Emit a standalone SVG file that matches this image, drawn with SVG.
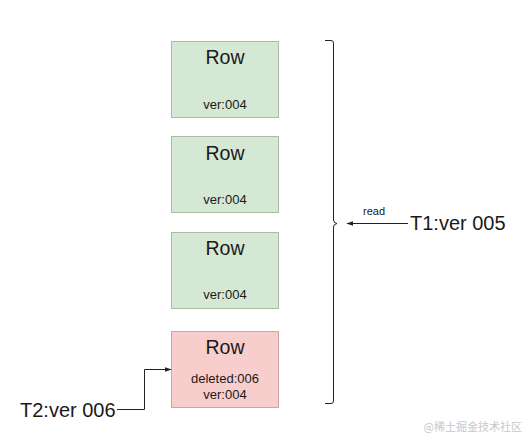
<svg xmlns="http://www.w3.org/2000/svg" width="532" height="444" viewBox="0 0 532 444">
<defs>
<style>
.txt{font-family:"Liberation Sans",Arial,sans-serif;fill:#1a1a1a}
.green{fill:#d5e8d4;stroke:#a9bda6;stroke-width:1}
.red{fill:#f8cecc;stroke:#d2a5a3;stroke-width:1}
.title{font-size:19.5px;text-anchor:middle}
.sub{font-size:13px;text-anchor:middle}
.big{font-size:20px}
.line{fill:none;stroke:#222;stroke-width:1}
</style>
<marker id="ah" viewBox="0 0 10 10" refX="9" refY="5" markerWidth="7" markerHeight="7" orient="auto" markerUnits="userSpaceOnUse">
<path d="M0,1.5 L10,5 L0,8.5 Z" fill="#222"/>
</marker>
</defs>
<rect width="532" height="444" fill="#ffffff"/>
<g id="row1">
<rect class="green" x="171.5" y="41.5" width="107" height="76"/>
<text class="txt title" x="225" y="64">Row</text>
<text class="txt sub" x="225" y="109">ver:004</text>
</g>
<g id="row2">
<rect class="green" x="171.5" y="136.5" width="107" height="76"/>
<text class="txt title" x="225" y="160">Row</text>
<text class="txt sub" x="225" y="204">ver:004</text>
</g>
<g id="row3">
<rect class="green" x="171.5" y="232.5" width="107" height="76"/>
<text class="txt title" x="225" y="255">Row</text>
<text class="txt sub" x="225" y="299">ver:004</text>
</g>
<g id="row4">
<rect class="red" x="171.5" y="331.5" width="107" height="76"/>
<text class="txt title" x="225" y="354">Row</text>
<text class="txt sub" x="225" y="383">deleted:006</text>
<text class="txt sub" x="225" y="399">ver:004</text>
</g>
<g id="brace">
<path class="line" d="M325,40.5 L331,40.5 Q333.5,40.5 333.5,43 L333.5,220 Q333.5,223 337,223.5 Q333.5,224 333.5,227 L333.5,401 Q333.5,403.5 331,403.5 L325,403.5"/>
</g>
<g id="t1">
<text class="txt big" x="410" y="230">T1:ver 005</text>
</g>
<g id="t2">
<text class="txt big" x="20" y="417">T2:ver 006</text>
</g>
<g id="connectors">
<path class="line" d="M408,223.5 L347,223.5" marker-end="url(#ah)"/>
<text class="txt" x="363" y="215" font-size="11">read</text>
<path class="line" d="M117,409.5 L144.5,409.5 L144.5,369.5 L171,369.5" marker-end="url(#ah)"/>
</g>
<g id="watermark">
<text x="522" y="431" font-size="11" text-anchor="end" fill="#c8c8c8" font-family="'Noto Sans CJK SC',sans-serif">@稀土掘金技术社区</text>
</g>
</svg>
